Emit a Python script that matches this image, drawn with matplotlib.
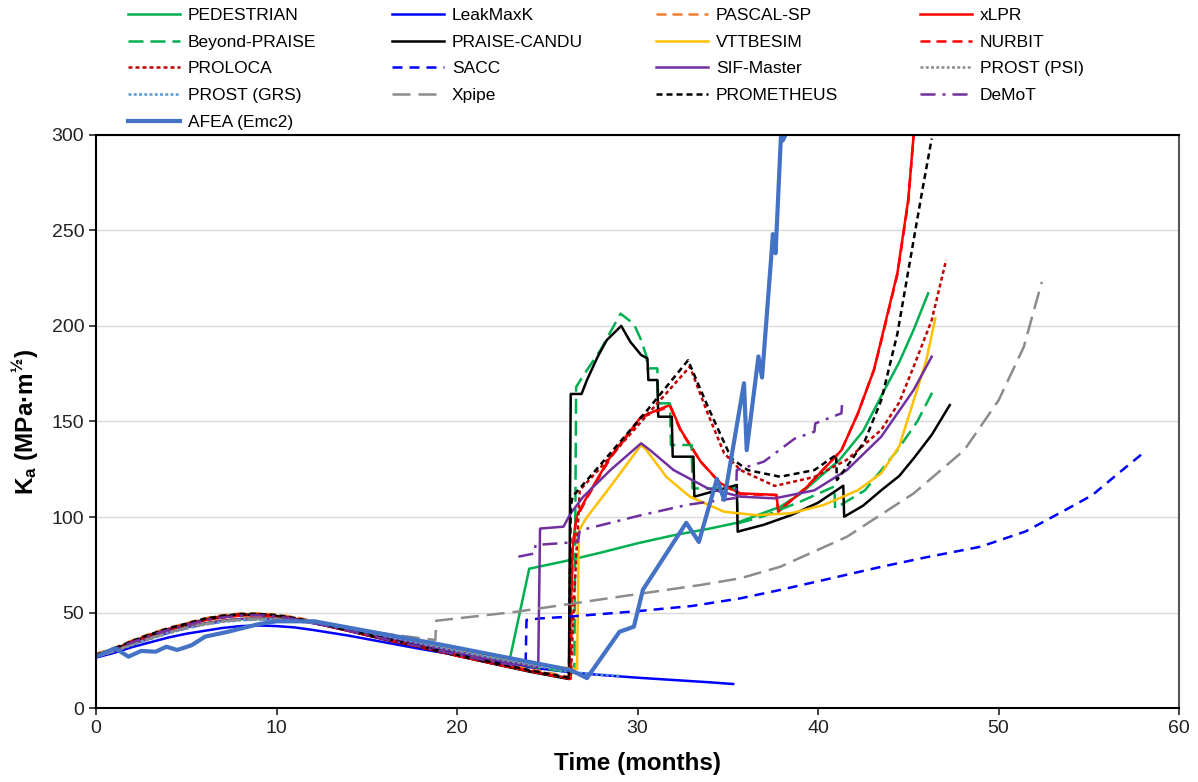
import matplotlib
matplotlib.use("Agg")
import matplotlib.pyplot as plt

plt.rcParams["font.family"] = ["Liberation Sans", "DejaVu Sans"]
plt.rcParams["mathtext.fontset"] = "custom"
plt.rcParams["mathtext.rm"] = "Liberation Sans:bold"
plt.rcParams["mathtext.it"] = "Liberation Sans:bold"
plt.rcParams["mathtext.bf"] = "Liberation Sans:bold"

# === Values: time (months) vs Ka (MPa m^0.5) ===
ped_t = [0, 1, 2, 3, 4, 5, 6, 7, 8, 9, 10, 11, 12, 14, 16, 18, 20, 22, 22.9, 23.0, 24.0,
         26, 28, 30, 32, 34, 35.5, 37.9, 39.0, 41.2, 42.5, 43.6, 44.5, 45.3, 46.1]
ped_k = [27, 30, 33.5, 36.8, 39.8, 42.3, 44.3, 45.8, 46.7, 47, 46.8, 46, 44.8, 41.5, 37.6, 33.6, 29.6, 25.8, 24.3, 29, 73,
         77, 81.5, 86.3, 90.5, 94, 97, 105.4, 112, 130, 145, 165, 181, 198, 217]

lmk_t = [0, 1, 2, 3, 4, 5, 6, 7, 8, 9, 10, 11, 12, 14, 16, 18, 20, 22, 24, 26.5, 28, 30, 32, 34, 35.3]
lmk_k = [26.5, 29, 32, 34.5, 37, 39, 40.5, 42, 43, 43.3, 43, 42.3, 41, 38, 34.5, 31, 27.8, 24.8, 21.5,
         18.6, 17.4, 16, 14.8, 13.6, 12.7]

pas_t = [0, 1, 2, 3, 4, 5, 6, 7, 8, 9, 10, 11, 12, 14, 16, 18, 20, 22, 24, 26.2]
pas_k = [28.5, 31.5, 35.5, 39, 42, 44.5, 47, 48.7, 49.6, 49.6, 49, 47.7, 45.7, 41.3, 37, 33, 28.5, 24.5, 20.5, 16.5]

xlpr_t = [0, 1, 2, 3, 4, 5, 6, 7, 8, 9, 10, 11, 12, 14, 16, 18, 20, 22, 24,
          26.2, 26.4, 26.6, 27.2, 28.5, 30.2, 31.1, 31.8, 32.4, 33.5, 34.6, 35.7, 37.7, 37.8,
          39.4, 41.3, 42.2, 43.1, 43.5, 44.4, 45.0, 45.3]
xlpr_k = [27.5, 30.5, 34.5, 38, 41, 43.5, 46, 47.5, 48.5, 48.7, 48, 46.7, 44.8, 40.5, 36, 32, 27.5, 23.5, 19.5,
          15.5, 83, 100, 110.7, 131.6, 152.5, 156, 158.6, 145.5, 129, 117.7, 112.4, 111.6, 102.8,
          115.9, 135, 154, 177, 192.6, 227.7, 266, 300]

bp_t = [0, 1, 2, 3, 4, 5, 6, 7, 8, 9, 10, 11, 12, 14, 16, 18, 20, 22, 24,
        26.5, 26.6, 26.9, 27.95, 29.06, 29.8, 30.2, 30.5, 30.55, 31.1, 31.15, 31.8, 31.85, 33.0, 33.05,
        35.5, 35.55, 37, 39, 40.9, 40.95, 42.6, 44.4, 45.5, 46.4]
bp_k = [27, 30, 33.5, 36.8, 39.8, 42.3, 44.3, 45.8, 46.7, 47, 46.8, 46, 44.8, 41.5, 37.5, 33.5, 29.5, 25.7, 22,
        18.5, 168, 172.6, 187.4, 206.4, 201, 192.6, 184, 177.8, 177.8, 159.5, 159.5, 137.7, 137.7, 115,
        115, 96.7, 100.5, 108, 116, 104.6, 114, 135, 150, 166.5]

pc_t = [0, 1, 2, 3, 4, 5, 6, 7, 8, 9, 10, 11, 12, 14, 16, 18, 20, 22, 24,
        26.2, 26.3, 26.9, 27.2, 27.8, 28.3, 29.1, 29.6, 30.2, 30.55, 30.6, 31.1, 31.15, 31.9, 31.95,
        33.1, 33.15, 35.5, 35.55, 37, 38.5, 40, 41.4, 41.45, 42.5, 43.5, 44.5, 45.3, 46.3, 47.3]
pc_k = [27.5, 30.8, 34.8, 38.3, 41.3, 43.8, 46.3, 48, 49, 49, 48.3, 46.8, 44.8, 40.5, 36, 32, 27.5, 23.3, 19.2,
        15.3, 164.4, 164.4, 171.7, 184, 192.6, 200, 191.7, 184.8, 183, 171.7, 171.7, 152.5, 152.5, 131.6,
        131.6, 110.7, 116.8, 92.4, 96, 101, 107.5, 116.4, 100.2, 106, 114, 121.5, 130.7, 143, 158.6]

vtt_t = [0, 1, 2, 3, 4, 5, 6, 7, 8, 9, 10, 11, 12, 14, 16, 18, 20, 22, 24,
         26.65, 26.75, 27.2, 28.5, 30.2, 30.5, 31.6, 32.9, 34.8, 36.6, 38.5, 40.3, 42.2, 43.5,
         44.5, 45.3, 46.0, 46.5]
vtt_k = [27, 30, 33.5, 36.8, 39.8, 42.3, 44.3, 45.8, 46.7, 47, 46.8, 46.2, 45, 42, 38.3, 34.5, 30.5, 27, 23.3,
         20.5, 93, 100, 116, 137.7, 135, 121, 110.7, 102.8, 101, 102, 106.3, 114, 122.9,
         137, 161, 182, 204]

nur_t = [0, 1, 2, 3, 4, 5, 6, 7, 8, 9, 10, 11, 12, 14, 16, 18, 20, 22, 24,
         26.3, 26.4, 26.6, 27.2, 28.5, 30.2, 31.1, 31.8, 32.4, 33.5, 34.6, 35.7, 37.7, 37.8,
         39.4, 41.3, 42.2, 43.1, 43.5, 44.4, 45.0, 45.3]
nur_k = [27.5, 30.6, 34.6, 38.1, 41.1, 43.6, 46.1, 47.6, 48.6, 48.8, 48.1, 46.8, 44.9, 40.6, 36.1, 32, 27.5, 23.4, 19.4,
         15.4, 82, 99, 110, 131, 152, 155.5, 158, 145, 129, 117.5, 112, 111.5, 103,
         116, 135, 154, 177, 192, 227, 265, 300]

pro_t = [0, 1, 2, 3, 4, 5, 6, 7, 8, 9, 10, 11, 12, 14, 16, 18, 20, 22, 24,
         26.3, 26.5, 26.8, 28.5, 30.4, 32.9, 33.9, 34.8, 35.7, 37.6, 39.8, 41.6, 43.5, 44.5, 45.3, 46.3, 47.1]
pro_k = [27.8, 31, 35, 38.5, 41.5, 44, 46.5, 48.2, 49.2, 49.2, 48.5, 47, 45, 40.7, 36.3, 32.2, 27.8, 23.6, 19.5,
         15.6, 60, 114, 131.6, 152, 178.7, 154, 133.4, 124.6, 116.3, 121, 130, 145.6, 160, 178.7, 203, 234.5]

sacc_t = [0, 1, 2, 3, 4, 5, 6, 7, 8, 9, 10, 11, 12, 14, 16, 18, 20, 22, 23.8,
          23.85, 24.6, 26, 30, 33, 35.7, 37.9, 40.5, 43.5, 46, 49.0, 51.5, 53.7, 55.2, 56.4, 58.0]
sacc_k = [27, 30, 33.3, 36.5, 39.5, 42, 44, 45.5, 46.3, 46.7, 46.5, 45.8, 44.5, 41.3, 37.3, 33.3, 29.3, 25.5, 22.5,
          46.2, 47, 47.8, 50.8, 53.5, 57.5, 61.9, 67.5, 74, 79, 84.5, 92.5, 103.7, 111.5, 121, 133.4]

sif_t = [0, 1, 2, 3, 4, 5, 6, 7, 8, 9, 10, 11, 12, 14, 16, 18, 20, 22,
         24.5, 24.6, 25.9, 26.3, 27.0, 28.5, 30.2, 30.7, 32.0, 33.9, 35.7, 37.6, 39.8, 41.6, 43.5, 45.3, 46.3]
sif_k = [27, 30, 33.5, 36.8, 39.8, 42.3, 44.3, 45.8, 46.7, 47, 46.8, 46, 44.8, 41.5, 37.5, 33.5, 29.5, 25.5,
         21.5, 94, 95, 102, 110.7, 124.6, 138.6, 135, 124.6, 115, 110.7, 109.8, 114, 124.6, 142, 166.5, 183.9]

psi_t = [0, 1, 2, 3, 4, 5, 6, 7, 8, 9, 10, 11, 12, 14, 16, 18, 20, 22, 24, 26.3]
psi_k = [27, 30, 33.3, 36.5, 39.5, 42, 44, 45.5, 46.3, 46.7, 46.5, 45.8, 44.7, 41.7, 37.9, 34, 30, 26.3, 22.8, 19]

grs_t = [0, 1, 2, 3, 4, 5, 6, 7, 8, 9, 10, 11, 12, 14, 16, 18, 20, 22, 24, 26.5, 27.5, 29]
grs_k = [26.8, 29.8, 33, 36.2, 39.2, 41.7, 43.7, 45.2, 46, 46.4, 46.3, 45.7, 44.6, 41.7, 38, 34.2, 30.3, 26.7, 23.2,
         18.8, 17.9, 17]

xp_t = [0, 1, 2, 3, 4, 5, 6, 7, 8, 9, 10, 11, 12, 14, 16, 18.8,
        18.85, 23.3, 28, 33.5, 35.7, 37.9, 41.6, 45.3, 48.1, 50.0, 51.4, 52.4]
xp_k = [27, 30, 33.3, 36.5, 39.5, 42, 44, 45.5, 46.3, 46.7, 46.5, 45.8, 44.7, 42, 39, 35.7,
        45.8, 50.5, 57, 64.5, 68, 74, 89.7, 112.4, 135, 161, 189, 223]

prm_t = [0, 1, 2, 3, 4, 5, 6, 7, 8, 9, 10, 11, 12, 14, 16, 18, 20, 22, 24,
         26.2, 26.3, 26.4, 28, 30.4, 32.8, 33.9, 35.2, 36.1, 37.9, 39.8, 41.0, 41.05,
         41.6, 42.6, 43.5, 44.4, 45.3, 45.8, 46.3]
prm_k = [28, 31.2, 35.2, 38.7, 41.8, 44.3, 46.8, 48.4, 49.3, 49.4, 48.7, 47.3, 45.3, 41, 36.5, 32.3, 28, 24, 20,
         16, 105, 110.7, 128, 154.3, 182, 157.7, 130.7, 124.6, 121.1, 124.6, 132.5, 119.4,
         126.4, 140, 161, 196, 245, 272, 298]

dem_early_t = [0, 1, 2, 3, 4, 5, 6, 7, 8, 9, 10, 11, 12, 14, 16, 18, 20, 22, 23.3]
dem_early_k = [27.5, 30.8, 34.5, 38, 41, 43.5, 46, 47.5, 48.5, 48.7, 48, 46.7, 44.8, 40.5, 36.2, 32.2, 28, 24.3, 22.5]
dem_t = [23.4, 24.3, 24.35, 26.7, 26.8, 30.2, 32.8, 35.45, 35.5, 37, 38.7, 39.8, 39.85, 41.3, 41.35]
dem_k = [79.3, 81, 85.4, 87, 93, 101, 106.5, 110, 124.6, 129, 141, 144.7, 149, 154.3, 162]

afea_t = [0, 1.05, 1.8, 2.5, 3.3, 3.9, 4.5, 5.3, 6.05, 7.3, 9.0, 10, 12.1, 19, 26.3, 27.2, 29.0, 29.8, 30.3,
          32.7, 33.4, 34.4, 34.8, 35.9, 36.05, 36.7, 36.9, 37.4, 37.5, 37.65, 37.95, 38.05, 38.2]
afea_k = [27, 31.4, 27, 30, 29.6, 32.2, 30.5, 33, 37.5, 40, 44, 45.5, 45.5, 33.5, 20, 15.8, 40, 42.7, 62,
          97, 87, 120, 109, 170, 135, 184, 173, 235, 248, 238, 300, 297, 300]

# === Series styling (legend order, row by row) ===
series = [
    ("PEDESTRIAN", ped_t, ped_k, "#00B050", 1.8, None),
    ("LeakMaxK", lmk_t, lmk_k, "#0000FF", 1.8, None),
    ("PASCAL-SP", pas_t, pas_k, "#ED7D31", 1.8, (4, 2.4)),
    ("xLPR", xlpr_t, xlpr_k, "#FF0000", 1.8, None),
    ("Beyond-PRAISE", bp_t, bp_k, "#00B050", 1.8, (6, 2.8)),
    ("PRAISE-CANDU", pc_t, pc_k, "#000000", 1.8, None),
    ("VTTBESIM", vtt_t, vtt_k, "#FFC000", 1.8, None),
    ("NURBIT", nur_t, nur_k, "#FF0000", 1.8, (4, 2.4)),
    ("PROLOCA", pro_t, pro_k, "#C00000", 1.8, (1.6, 1.2)),
    ("SACC", sacc_t, sacc_k, "#0000FF", 1.8, (4, 2.8)),
    ("SIF-Master", sif_t, sif_k, "#7030A0", 1.8, None),
    ("PROST (PSI)", psi_t, psi_k, "#8C8C8C", 1.8, (1.2, 0.9)),
    ("PROST (GRS)", grs_t, grs_k, "#5B9BD5", 1.8, (1.2, 0.9)),
    ("Xpipe", xp_t, xp_k, "#8C8C8C", 1.8, (7.2, 3.2)),
    ("PROMETHEUS", prm_t, prm_k, "#000000", 1.8, (2.4, 1.6)),
    ("DeMoT", dem_t, dem_k, "#7030A0", 1.8, (6, 2.8, 1.2, 2.8)),
    ("AFEA (Emc2)", afea_t, afea_k, "#4472C4", 3.0, None),
]

fig = plt.figure(figsize=(11.98, 7.82), dpi=100)
ax = fig.add_axes([96 / 1198, 1 - 708.3 / 782, (1179 - 96) / 1198, (708.3 - 134.7) / 782])

handles = {}
for label, t, k, color, lw, dashes in series:
    ls = "-" if dashes is None else (0, dashes)
    (ln,) = ax.plot(t, k, color=color, lw=lw, ls=ls, label=label)
    handles[label] = ln
    if label == "DeMoT":
        ax.plot(dem_early_t, dem_early_k, color=color, lw=lw, ls=ls)

ax.set_xlim(0, 60)
ax.set_ylim(0, 300)
ax.set_xticks(range(0, 61, 10))
ax.set_yticks(range(0, 301, 50))
ax.tick_params(direction="out", length=5, width=1.2, labelsize=14, colors="#222222")
ax.yaxis.grid(True, color="#D9D9D9", lw=1)
ax.set_axisbelow(True)
for side in ["left", "bottom", "top"]:
    ax.spines[side].set_color("black")
    ax.spines[side].set_linewidth(1.5)
ax.spines["right"].set_color("#555555")
ax.spines["right"].set_linewidth(1.5)

ax.set_xlabel("Time (months)", fontsize=17.5, fontweight="bold", labelpad=11)
ax.set_ylabel(r"K$_{\mathrm{a}}$ (MPa·m$^{\mathrm{½}}$)", fontsize=17.5, fontweight="bold", labelpad=8)

# === Legend: 4 evenly spaced columns above the plot ===
labels = [s[0] for s in series]
col_x = [128, 392, 656, 920]
for c in range(4):
    col_labels = labels[c::4]
    fig.legend([handles[l] for l in col_labels], col_labels,
               loc="upper left", bbox_to_anchor=(col_x[c] / 1198, 1 - 8 / 782),
               frameon=False, fontsize=12.5, handlelength=3.0, handletextpad=0.45,
               labelspacing=0.66, borderpad=0, borderaxespad=0)

fig.savefig("out.png", dpi=100)
